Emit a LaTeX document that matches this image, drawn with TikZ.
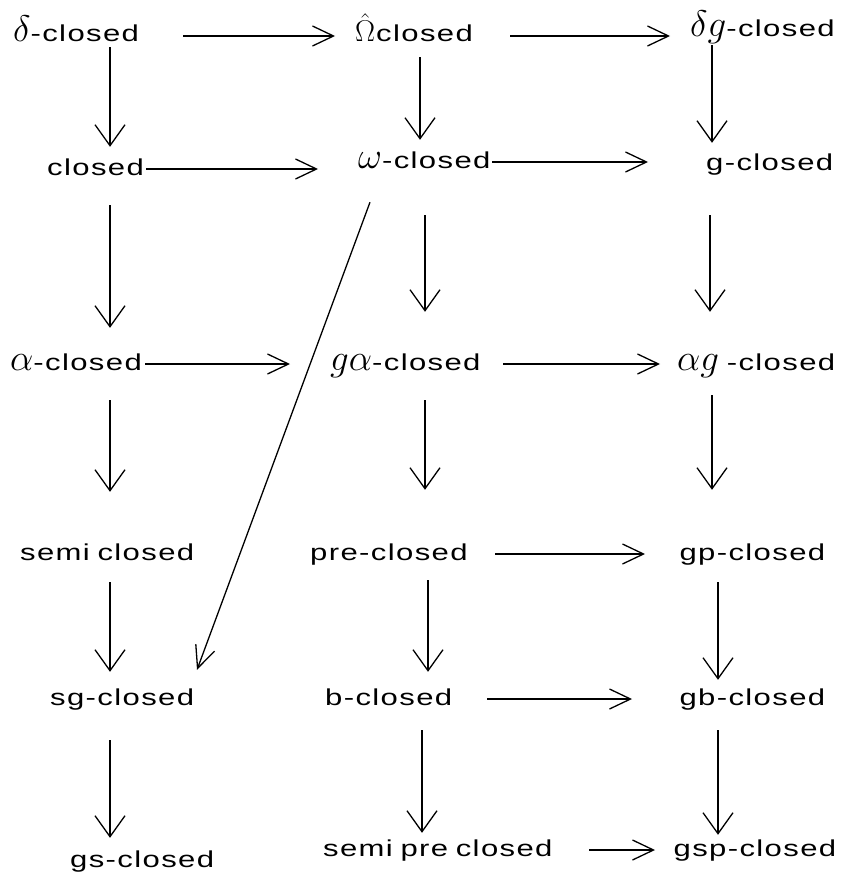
\RequirePackage{fix-cm}
\documentclass[tikz,border=0pt]{standalone}
\usepackage{fontspec}
\setmainfont{Liberation Sans}[FakeStretch=1.35,LetterSpace=6,WordSpace=1.6]
\usetikzlibrary{arrows.meta}
\newcommand{\mth}[1]{{\fontsize{37}{37}\selectfont$#1$}}
\newcommand{\mths}[1]{{\fontsize{30}{30}\selectfont$#1$\kern1pt}}
\tikzset{
  lbl/.style={anchor=base west, inner sep=0pt, text height=17pt, text depth=5pt,
    align=left, font=\fontsize{23}{26}\selectfont},
  rlbl/.style={lbl, align=right},
  harr/.style={line width=1.3pt, -{Straight Barb[length=21pt,width=20pt]}},
  varr/.style={line width=1.3pt, -{Straight Barb[length=21pt,width=30pt]}},
  darr/.style={line width=1.3pt, -{Straight Barb[length=22pt,width=20pt]}},
}
\begin{document}
\begin{tikzpicture}[x=1pt,y=-1pt]
\fill[white] (0,0) rectangle (844,872);
\useasboundingbox (0,0) rectangle (844,872);
% row 1
\node[lbl,text width=140pt] (d1) at (13,42) {\mbox{\mth{\delta}-closed}};
\node[lbl,text width=135pt] (o1) at (355,42) {\mbox{\mths{\hat{\Omega}}closed}};
\node[rlbl,text width=143pt] (dg) at (690,37) {\mbox{\mth{\delta g}-closed}};
% row 2
\node[lbl,text width=96pt] (c) at (47,175) {\mbox{closed}};
\node[lbl,text width=132pt] (w) at (358,168) {\mbox{\mth{\omega}-closed}};
\node[rlbl,text width=127pt] (g) at (706,170) {\mbox{g-closed}};
% row 3
\node[lbl,text width=133pt] (a) at (10,370) {\mbox{\mth{\alpha}-closed}};
\node[lbl,text width=160pt] (ga) at (330,370) {\mbox{\mth{g\alpha}-closed}};
\node[rlbl,text width=167pt] (ag) at (668,370) {\mbox{\mth{\alpha g} -closed}};
% row 4
\node[lbl,text width=190pt] (s) at (20,560) {\mbox{semi closed}};
\node[lbl,text width=165pt] (p) at (310,560) {\mbox{pre-closed}};
\node[rlbl,text width=155pt] (gp) at (670,560) {\mbox{gp-closed}};
% row 5
\node[lbl,text width=160pt] (sg) at (50,705) {\mbox{sg-closed}};
\node[lbl,text width=145pt] (b) at (325,705) {\mbox{b-closed}};
\node[rlbl,text width=160pt] (gb) at (665,705) {\mbox{gb-closed}};
% row 6
\node[lbl,text width=152pt] (gs) at (70,867) {\mbox{gs-closed}};
\node[lbl,text width=249pt] (sp) at (323,856) {\mbox{semi pre closed}};
\node[rlbl,text width=174pt] (gsp) at (662,856) {\mbox{gsp-closed}};

% horizontal arrows
\draw[harr,shorten <=30pt,shorten >=20pt] (d1.east) -- (d1.east -| o1.west);
\draw[harr,shorten <=20pt,shorten >=20pt] (o1.east) -- (o1.east -| dg.west);
\draw[harr,shorten <=3pt,shorten >=40pt] (c.east) -- (c.east -| w.west);
\draw[harr,shorten <=2pt,shorten >=58pt] (w.east) -- (w.east -| g.west);
\draw[harr,shorten <=2pt,shorten >=40pt] (a.east) -- (a.east -| ga.west);
\draw[harr,shorten <=13pt,shorten >=8pt] (ga.east) -- (ga.east -| ag.west);
\draw[harr,shorten <=20pt,shorten >=25pt] (p.east) -- (p.east -| gp.west);
\draw[harr,shorten <=17pt,shorten >=33pt] (b.east) -- (b.east -| gb.west);
\draw[harr,shorten <=17pt,shorten >=7pt] (sp.east) -- (sp.east -| gsp.west);

% vertical arrows, column 1
\draw[varr,shorten >=11pt] ([xshift=97pt]d1.south west) -- ([xshift=63pt]c.north west);
\draw[varr,shorten <=25pt,shorten >=25pt] ([xshift=63pt]c.south west) -- ([xshift=100pt]a.north west);
\draw[varr,shorten <=25pt,shorten >=51pt] ([xshift=100pt]a.south west) -- ([xshift=90pt]s.north west);
\draw[varr,shorten <=17pt,shorten >=16pt] ([xshift=90pt]s.south west) -- ([xshift=60pt]sg.north west);
\draw[varr,shorten <=30pt,shorten >=12pt] ([xshift=60pt]sg.south west) -- ([xshift=40pt]gs.north west);
% column 2
\draw[varr,shorten <=10pt,shorten >=11pt] ([xshift=65pt]o1.south west) -- ([xshift=62pt]w.north west);
\draw[varr,shorten <=42pt,shorten >=41pt] ([xshift=67pt]w.south west) -- ([xshift=95pt]ga.north west);
\draw[varr,shorten <=25pt,shorten >=53pt] ([xshift=95pt]ga.south west) -- ([xshift=115pt]p.north west);
\draw[varr,shorten <=15pt,shorten >=16pt] ([xshift=118pt]p.south west) -- ([xshift=103pt]b.north west);
\draw[varr,shorten <=20pt,shorten >=6pt] ([xshift=97pt]b.south west) -- ([xshift=99pt]sp.north west);
% column 3
\draw[varr,shorten <=3pt,shorten >=10pt] ([xshift=22pt]dg.south west) -- ([xshift=6pt]g.north west);
\draw[varr,shorten <=40pt,shorten >=41pt] ([xshift=4pt]g.south west) -- ([xshift=42pt]ag.north west);
\draw[varr,shorten <=20pt,shorten >=53pt] ([xshift=44pt]ag.south west) -- ([xshift=42pt]gp.north west);
\draw[varr,shorten <=17pt,shorten >=8pt] ([xshift=48pt]gp.south west) -- ([xshift=53pt]gb.north west);
\draw[varr,shorten <=20pt,shorten >=4pt] ([xshift=53pt]gb.south west) -- ([xshift=56pt]gsp.north west);

% diagonal arrow
\draw[darr] ([shift={(12,29)}]w.south west) -- ([shift={(147,-18)}]sg.north west);
\end{tikzpicture}
\end{document}
